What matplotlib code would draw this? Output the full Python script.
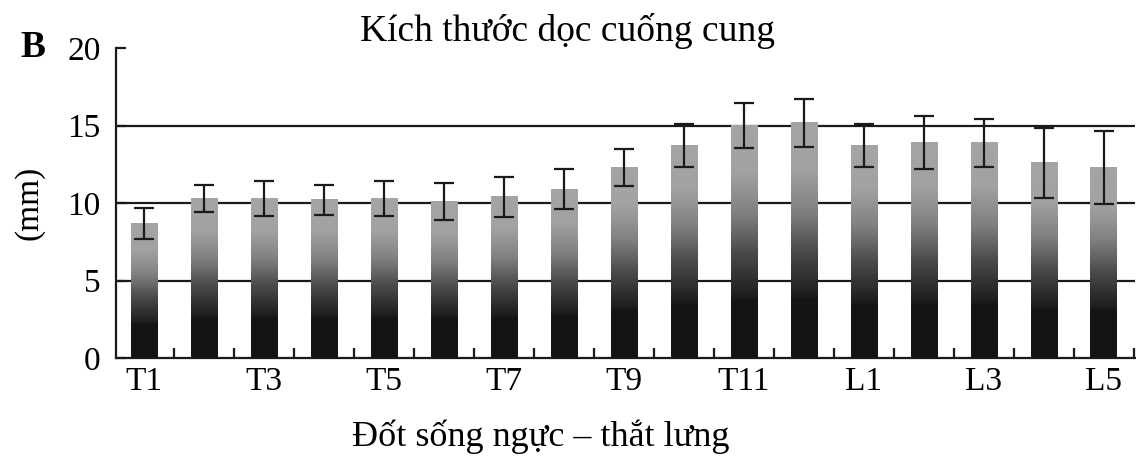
import numpy as np
import matplotlib
matplotlib.use("Agg")
import matplotlib.pyplot as plt
from matplotlib.colors import LinearSegmentedColormap

categories = ["T1", "T2", "T3", "T4", "T5", "T6", "T7", "T8", "T9", "T10", "T11", "T12",
              "L1", "L2", "L3", "L4", "L5"]
means = [8.7, 10.3, 10.3, 10.2, 10.3, 10.1, 10.4, 10.9, 12.3, 13.7, 15.0, 15.2,
         13.7, 13.9, 13.9, 12.6, 12.3]
errors = [1.0, 0.9, 1.15, 1.0, 1.15, 1.2, 1.3, 1.3, 1.2, 1.4, 1.45, 1.55,
          1.4, 1.7, 1.55, 2.25, 2.35]
yticks = [0, 5, 10, 15, 20]
title = "Kích thước dọc cuống cung"
xlabel = "Đốt sống ngực – thắt lưng"
ylabel = "(mm)"
panel = "B"

plt.rcParams['font.family'] = ['Liberation Serif', 'DejaVu Serif']

fig = plt.figure(figsize=(11.36, 4.57), dpi=100)
ax = fig.add_axes([0.102, 0.2166, 0.897, 0.678])

x = np.arange(len(categories))
w = 0.44
ax.set_xlim(-0.47, 16.52)
ax.set_ylim(0, 20)

# gridlines behind bars
for yv in yticks[1:-1]:
    ax.axhline(yv, color="#1a1a1a", lw=1.6, zorder=1)

bars = ax.bar(x, means, width=w, color="none", edgecolor="none", zorder=2)

cmap = LinearSegmentedColormap.from_list(
    "barg", [(0.0, "#141414"), (0.25, "#141414"), (0.26, "#1c1c1c"),
             (0.45, "#4a4a4a"), (0.62, "#808080"), (0.80, "#a2a2a2"), (1.0, "#a5a5a5")])
grad = np.linspace(0, 1, 256).reshape(-1, 1)
for b in bars:
    x0 = b.get_x()
    h = b.get_height()
    ax.imshow(grad, cmap=cmap, origin="lower", aspect="auto",
              extent=[x0, x0 + b.get_width(), 0, h], zorder=3, interpolation="bilinear")

ax.errorbar(x, means, yerr=errors, fmt="none", ecolor="#1a1a1a", elinewidth=1.6,
            capsize=7.5, capthick=1.6, zorder=4)

for s in ["top", "right"]:
    ax.spines[s].set_visible(False)
for s in ["left", "bottom"]:
    ax.spines[s].set_linewidth(1.6)
    ax.spines[s].set_color("#1a1a1a")
    ax.spines[s].set_zorder(5)

ax.set_yticks(yticks)
ax.tick_params(axis="y", direction="in", length=7, width=1.6, color="#1a1a1a",
               labelsize=24, pad=11)
ax.set_xticks(x[::2])
ax.set_xticklabels(categories[::2])
ax.set_xticks(list(x[:-1] + 0.5) + [16.5], minor=True)
ax.tick_params(axis="x", which="major", length=0, labelsize=24, pad=6)
ax.tick_params(axis="x", which="minor", direction="in", length=7, width=1.6, color="#1a1a1a")

ax.set_ylabel(ylabel, fontsize=24, labelpad=16)
fig.text(0.5, 0.932, title, ha="center", va="center", fontsize=27)
fig.text(0.476, 0.044, xlabel, ha="center", va="center", fontsize=26)
fig.text(0.018, 0.895, panel, ha="left", va="center", fontsize=27, fontweight="bold")

fig.savefig("out.png", dpi=100)
